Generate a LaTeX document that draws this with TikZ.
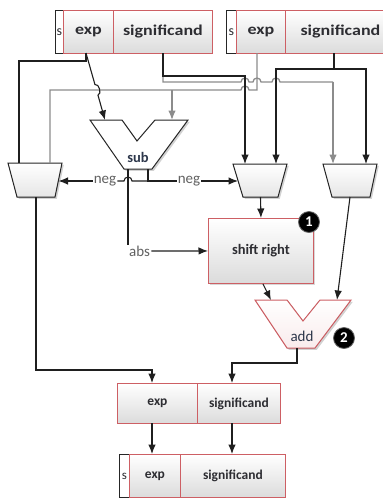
\documentclass[tikz,border=0pt]{standalone}
\usepackage{fontspec}
\usepackage{graphicx}
\setmainfont{Carlito}
\usetikzlibrary{arrows.meta,shadows,calc}
\definecolor{regred}{RGB}{205,95,100}
\definecolor{txt}{RGB}{45,45,50}
\definecolor{alutxt}{RGB}{45,55,75}
\tikzset{
  wire/.style={draw=black!88, line width=1.1pt},
  gwire/.style={draw=black!45, line width=1.3pt},
  arr/.style={-{Latex[length=9.5pt,width=7.5pt]}},
  field/.style={draw=regred, line width=0.9pt, top color=white, bottom color=black!14, inner sep=0pt, anchor=north west, text=txt, font=\bfseries\fontsize{13.5}{13.5}\selectfont},
  topfield/.style={field, font=\bfseries\fontsize{15}{15}\selectfont},
  sfield/.style={draw=black!85, line width=0.9pt, fill=white, inner sep=0pt, anchor=north west, text=txt},
  muxshape/.style={draw=black!85, line width=1pt, top color=white, bottom color=black!10, drop shadow={shadow xshift=1.8pt, shadow yshift=-1.8pt, opacity=0.35}},
  alushape/.style={draw=black!85, line width=1pt, fill=white, drop shadow={shadow xshift=1.8pt, shadow yshift=-1.8pt, opacity=0.35}},
  addshape/.style={draw=regred, line width=1pt, top color=white, bottom color=regred!12, drop shadow={shadow xshift=1.8pt, shadow yshift=-1.8pt, opacity=0.35}},
  badge/.style={circle, fill=black, draw=black!60, line width=0.8pt, text=white, minimum size=21pt, inner sep=0pt, font=\bfseries\fontsize{15}{15}\selectfont},
  lbl/.style={text=black!62, font=\fontsize{15}{15}\selectfont, inner sep=1pt},
  alulbl/.style={text=alutxt, font=\bfseries\fontsize{14.5}{14.5}\selectfont, inner sep=0pt},
}
\begin{document}
\begin{tikzpicture}[x=1pt,y=-1pt]
\fill[white] (0,0) rectangle (383,499);
\useasboundingbox (0,0) rectangle (383,499);

% ---------- top registers
\node[sfield, minimum width=8pt, minimum height=43pt, font=\fontsize{14}{14}\selectfont] (s1) at (55,10) {s};
\node[topfield, minimum width=50pt, minimum height=43pt] (e1) at (63,10) {\scalebox{1.2}[1]{exp}};
\node[topfield, minimum width=99pt, minimum height=43pt] (m1) at (113,10) {\scalebox{1.2}[1]{significand}};
\node[sfield, minimum width=10pt, minimum height=43pt, font=\fontsize{14}{14}\selectfont] (s2) at (226,10) {s};
\node[topfield, minimum width=49pt, minimum height=43pt] (e2) at (236,10) {\scalebox{1.2}[1]{exp}};
\node[topfield, minimum width=110pt, minimum height=43pt] (m2) at (285,10) {\scalebox{1.2}[1]{significand}};

\coordinate (e1p) at (86,53);
\coordinate (m1p) at (163,53);
\coordinate (e2p) at (257,53);
\coordinate (m2p) at (334,53);

% ---------- muxes
\filldraw[muxshape] (8,163) -- (62,163) -- (55,197) -- (17,197) -- cycle;
\coordinate (lm-a) at (19,163);
\coordinate (lm-b) at (50,163);
\coordinate (lm-o) at (36,197);
\coordinate (lm-s) at (58.5,181);

\filldraw[muxshape] (233,164) -- (287,164) -- (278,197) -- (243,197) -- cycle;
\coordinate (mm-a) at (245,164);
\coordinate (mm-b) at (276,164);
\coordinate (mm-o) at (260.5,197);
\coordinate (mm-s) at (238,181);

\filldraw[muxshape] (323,164) -- (377,164) -- (370,197) -- (332,197) -- cycle;
\coordinate (rm-a) at (333,164);
\coordinate (rm-b) at (366,164);
\coordinate (rm-o) at (350,197);

% ---------- sub
\filldraw[alushape] (90,120) -- (122,120) -- (137,141) -- (155,120) -- (188,120) -- (152,169) -- (124,169) -- cycle;
\node[alulbl] (sublbl) at (138,157) {sub};
\coordinate (sub-a) at (105,120);
\coordinate (sub-b) at (172,120);
\coordinate (sub-abs) at (128,169);
\coordinate (sub-neg) at (148,169);

% ---------- shift right
\node[field, minimum width=105pt, minimum height=65pt, font=\bfseries\fontsize{14.5}{14.5}\selectfont, drop shadow={shadow xshift=2pt, shadow yshift=-2pt, opacity=0.3}] (sr) at (208,218) {shift right};
\coordinate (srb) at ([xshift=2pt]sr.south);

% ---------- add
\filldraw[addshape] (255,300) -- (287,300) -- (303,321) -- (320,300) -- (351,300) -- (315,348) -- (287,348) -- cycle;
\node[alulbl, font=\fontsize{15}{15}\selectfont] (addlbl) at (302,336) {add};
\coordinate (add-a) at (271,300);
\coordinate (add-b) at (337,300);
\coordinate (add-o) at (297,348);

% ---------- badges
\node[badge] (b1) at (309,222) {1};
\node[badge] (b2) at (344,338) {2};

% ---------- middle register
\node[field, minimum width=80pt, minimum height=40pt] (e3) at (117,383) {exp};
\node[field, minimum width=83pt, minimum height=40pt] (m3) at (197,383) {significand};
\coordinate (e3in) at (152,383);
\coordinate (m3in) at (232,383);
\coordinate (e3out) at (152,423);
\coordinate (m3out) at (232,423);

% ---------- bottom register
\node[sfield, minimum width=10pt, minimum height=43pt, font=\fontsize{13}{13}\selectfont] (s4) at (119,454) {s};
\node[field, minimum width=51pt, minimum height=43pt] (e4) at (129,454) {exp};
\node[field, minimum width=105pt, minimum height=43pt] (m4) at (180,454) {significand};
\coordinate (e4in) at (152,454);
\coordinate (m4in) at (232,454);

% ---------- helper rows
\coordinate (y69) at (0,69);
\coordinate (y76) at (0,76);
\coordinate (y82) at (0,82);
\coordinate (y90) at (0,90);

% ---------- wires from the top
% right exponent (gray) to sub and left mux
\draw[gwire] (e2p) -- (e2p |- y90) -- (249,90) arc[start angle=0, end angle=180, radius=4pt] -- (lm-b |- y90) -- (lm-b);
\draw[gwire, arr] (sub-b |- y90) -- (sub-b);
% left significand (gray) to right mux
\draw[gwire] (m1p |- y76) -- (m1p |- y82) -- (241,82) arc[start angle=180, end angle=0, radius=4pt]
  -- (253,82) arc[start angle=180, end angle=0, radius=4pt]
  -- (272,82) arc[start angle=180, end angle=0, radius=4pt]
  -- (rm-a |- y82);
\draw[gwire, arr] (rm-a |- y82) -- (rm-a);
% left exponent to left mux
\draw[wire] (e1p) -- ++(0,8) -| (lm-a);
% left exponent to sub
\draw[wire, arr] (e1p) -- ($(e1p)!0.47!(sub-a)$) to[bend left=90] ($(e1p)!0.63!(sub-a)$) -- (sub-a);
% left significand to middle mux
\draw[wire, arr] (m1p) |- (mm-a |- y76) -- (mm-a);
% right significand to middle and right mux
\draw[wire, arr] (m2p) |- (mm-b |- y69) -- (mm-b);
\draw[wire, arr] (m2p |- y69) -| (rm-b);

% ---------- sub outputs
\node[lbl, anchor=west] (abs) at (128,251) {abs};
\draw[wire] (sub-abs) -- (abs.north west);
\draw[wire, arr] (abs.east) -- (sr.west);

\node[lbl] (negR) at (189,181) {neg};
\node[lbl] (negL) at (105,181) {neg};
\draw[wire] (sub-neg) |- (negR.west);
\draw[wire, arr] (negR.east) -- (mm-s);
\draw[wire] (sub-neg |- negL) -- (132,181) arc[start angle=0, end angle=180, radius=4pt] -- (negL.east);
\draw[wire, arr] (negL.west) -- (lm-s);

% ---------- datapath below
\draw[wire, arr] (mm-o) -- (sr.north);
\draw[wire, arr] (srb) -- (add-a);
\draw[wire, arr] (rm-o) -- (add-b);
\draw[wire, arr] (add-o) |- ($(m3in)+(0,-20)$) -- (m3in);
\draw[wire, arr] (lm-o) |- ($(e3in)+(0,-13)$) -- (e3in);
\draw[wire, arr] (e3out) -- (e4in);
\draw[wire, arr] (m3out) -- (m4in);
\end{tikzpicture}
\end{document}
